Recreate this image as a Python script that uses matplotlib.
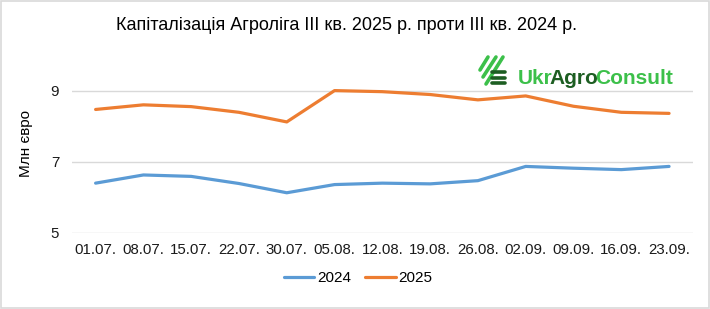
import matplotlib
matplotlib.use("Agg")
import matplotlib.pyplot as plt
from matplotlib.lines import Line2D
from matplotlib.patches import Rectangle
import numpy as np

plt.rcParams["font.family"] = ["Liberation Sans", "DejaVu Sans"]

dates = ["01.07.", "08.07.", "15.07.", "22.07.", "30.07.", "05.08.", "12.08.",
         "19.08.", "26.08.", "02.09.", "09.09.", "16.09.", "23.09."]
cap_2024 = [6.40, 6.63, 6.59, 6.39, 6.13, 6.36, 6.40, 6.38, 6.47, 6.87, 6.82, 6.78, 6.87]
cap_2025 = [8.47, 8.60, 8.55, 8.39, 8.12, 9.00, 8.97, 8.89, 8.74, 8.85, 8.56, 8.39, 8.36]

blue = "#5b9bd5"
orange = "#ed7d31"

fig = plt.figure(figsize=(7.1, 3.09), dpi=100)
ax = fig.add_axes([0.101, 0.246, 0.875, 0.576])

x = np.arange(len(dates))
ax.plot(x, cap_2024, color=blue, lw=2.3, label="2024", solid_capstyle="round")
ax.plot(x, cap_2025, color=orange, lw=2.3, label="2025", solid_capstyle="round")

ax.set_xlim(-0.5, len(dates) - 0.5)
ax.set_ylim(5, 10)
ax.set_yticks([5, 7, 9])
ax.set_xticks(x)
ax.set_xticklabels(dates)
ax.tick_params(length=0, labelsize=10.8, colors="#1a1a1a")
ax.tick_params(axis="y", pad=9)
ax.tick_params(axis="x", pad=7)
ax.grid(axis="y", color="#d9d9d9", lw=1)
ax.set_axisbelow(True)
for s in ax.spines.values():
    s.set_visible(False)

ax.set_ylabel("Млн євро", fontsize=11, labelpad=13)

fig.text(0.488, 0.918, "Капіталізація Агроліга III кв. 2025 р. проти III кв. 2024 р.",
         ha="center", va="center", fontsize=13)

ax.legend(loc="center", bbox_to_anchor=(0.461, -0.255), ncol=2, frameon=False,
          fontsize=11, handlelength=2.0, columnspacing=0.9, handletextpad=0.2)

# logo
light = "#3cc04a"
dark = "#1d5e22"
W, H = 710.0, 309.0
for (x0, y0, x1, y1) in [(480, 70, 488, 57), (483, 77, 496, 57), (486, 84, 503, 57)]:
    fig.add_artist(Line2D([x0 / W, x1 / W], [1 - y0 / H, 1 - y1 / H],
                          color=light, lw=2.6, solid_capstyle="round"))
for yy in [72, 77.5, 83]:
    fig.add_artist(Line2D([492 / W, 505 / W], [1 - yy / H, 1 - yy / H],
                          color=dark, lw=2.6, solid_capstyle="round"))
logo_parts = [("Ukr", light), ("Agro", dark), ("Consult", light)]
fig.canvas.draw()
r = fig.canvas.get_renderer()
xpos = 518
for word, col in logo_parts:
    t = fig.text(xpos / W, 1 - 78 / H, word, color=col, fontsize=15,
                 fontweight="bold", va="center", ha="left")
    xpos = t.get_window_extent(r).x1 - 3

fig.add_artist(Rectangle((0.001, 0.002), 0.997, 0.995, transform=fig.transFigure,
                         fill=False, edgecolor="#d9d9d9", lw=1.2))

fig.savefig("out.png", dpi=100)
